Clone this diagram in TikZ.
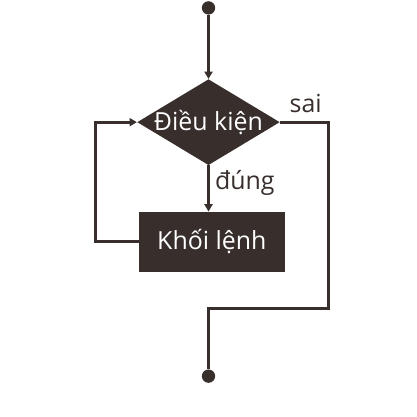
\documentclass[tikz,border=0pt]{standalone}
\usepackage{fontspec}
\setmainfont{Open Sans}
\usetikzlibrary{shapes.geometric,arrows.meta}
\definecolor{ink}{HTML}{382F2D}
\tikzset{
  flow/.style={draw=ink, line width=2.1pt},
  dot/.style={circle, fill=ink, inner sep=0pt, minimum size=0.32cm},
  cond/.style={diamond, fill=ink, text=white, inner sep=-4pt, aspect=1.65,
    minimum width=3.42cm, minimum height=2.06cm},
  block/.style={rectangle, fill=ink, text=white, minimum width=3.5cm, minimum height=1.44cm},
  lbl/.style={text=ink}
}
\begin{document}
\begin{tikzpicture}[font=\fontsize{17}{20}\selectfont, >={Triangle[length=5pt,width=5.5pt]}]
\useasboundingbox (-5,-5) rectangle (5,5);
\path
(0,4.81) node[dot] (start) {}
(0,2.07) node[cond] (dk) {Điều kiện}
(0.08,-0.80) node[block] (kl) {Khối lệnh}
(0,-4.02) node[dot] (stop) {}
(2.33,2.52) node[lbl] (sai) {sai}
(0.87,0.61) node[lbl] (dung) {đúng}
(-2.72,2.07) coordinate (lp)
(2.87,-2.39) coordinate (rc);
%\draw[help lines] (-5,-5) grid (5,5);
\draw[flow,->] (start)--(dk.north);
\draw[flow,->] (dk.south)--(dk.south |- kl.north);
\draw[flow,->] (kl.west) -| (lp) -- (dk.west);
\draw[flow] (dk.east) -| (rc) -| (stop);
\end{tikzpicture}
\end{document}
